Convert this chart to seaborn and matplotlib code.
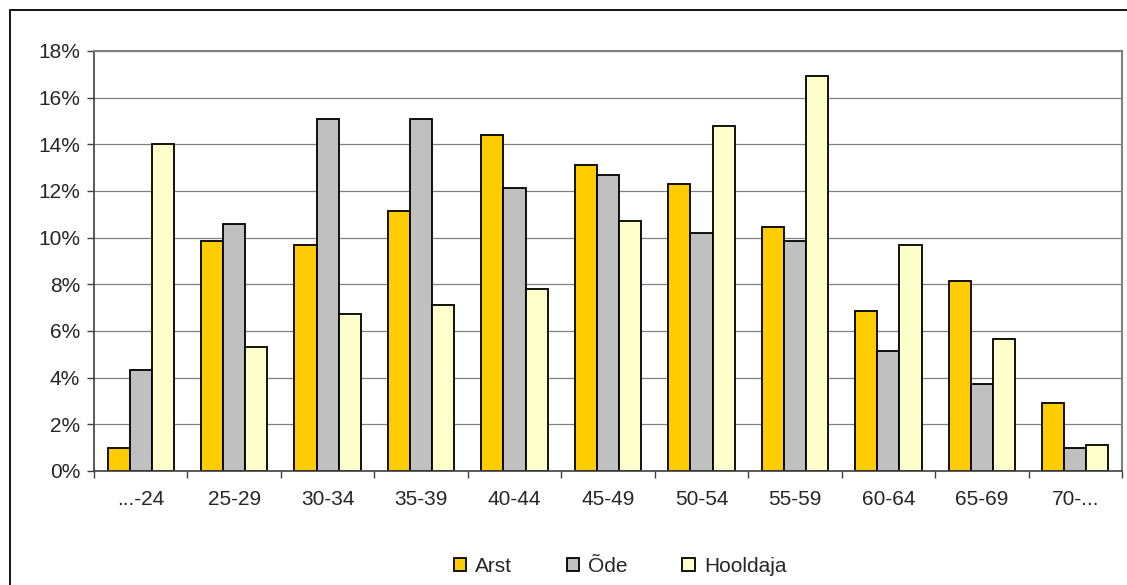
import pandas as pd
import seaborn as sb
import matplotlib.pyplot as plt
from matplotlib.patches import Rectangle
from matplotlib.ticker import PercentFormatter

vanus = ["...-24", "25-29", "30-34", "35-39", "40-44", "45-49",
         "50-54", "55-59", "60-64", "65-69", "70-..."]
arst = [1.0, 9.85, 9.7, 11.15, 14.4, 13.1, 12.3, 10.45, 6.85, 8.15, 2.9]
ode = [4.35, 10.6, 15.1, 15.1, 12.15, 12.7, 10.2, 9.85, 5.15, 3.75, 1.0]
hooldaja = [14.0, 5.3, 6.75, 7.1, 7.8, 10.7, 14.8, 16.95, 9.7, 5.65, 1.1]
seeriad = ["Arst", "Õde", "Hooldaja"]
varvid = ["#FFCC00", "#C0C0C0", "#FFFFCC"]

datos = pd.DataFrame({
    "vanus": vanus * 3,
    "seeria": [s for s in seeriad for _ in vanus],
    "osakaal": arst + ode + hooldaja,
})

sb.set_style("white")
plt.rcParams["font.family"] = ["Liberation Sans", "DejaVu Sans"]

fig = plt.figure(figsize=(11.27, 5.85), dpi=100)
ax = fig.add_axes([94 / 1127, 1 - 471 / 585, 1028 / 1127, 420 / 585])

sb.barplot(data=datos, x="vanus", y="osakaal", hue="seeria",
           palette=varvid, width=0.71, edgecolor="black", linewidth=1.3,
           saturation=1, ax=ax)

ax.set_ylim(0, 18)
ax.set_xlim(-0.5, len(vanus) - 0.5)
ax.set_yticks(range(0, 19, 2))
ax.yaxis.set_major_formatter(PercentFormatter(decimals=0))
ax.yaxis.grid(True, color="#808080", linewidth=0.9)
ax.set_axisbelow(True)
ax.set_xlabel("")
ax.set_ylabel("")

ax.set_xticks([i + 0.5 for i in range(-1, len(vanus))], minor=True)
ax.tick_params(axis="x", which="major", length=0, pad=14, labelsize=15)
ax.tick_params(axis="x", which="minor", length=5, width=1, color="#404040",
               direction="out", bottom=True)
ax.tick_params(axis="y", length=5, width=1, color="#404040", direction="out",
               left=True, pad=5, labelsize=15)

for side in ["left", "bottom"]:
    ax.spines[side].set_color("#404040")
    ax.spines[side].set_linewidth(1.2)
for side in ["top", "right"]:
    ax.spines[side].set_color("#808080")
    ax.spines[side].set_linewidth(1.5)

handles, labels = ax.get_legend_handles_labels()
ax.legend(handles, labels, loc="center", ncol=3, frameon=False,
          bbox_to_anchor=(620 / 1127, 1 - 566 / 585),
          bbox_transform=fig.transFigure, fontsize=15,
          handlelength=0.6, handleheight=0.6, handletextpad=0.45,
          columnspacing=2.6)

fig.patches.append(Rectangle((10 / 1127, -0.1), 1.2, 1 - 10 / 585 + 0.1,
                             transform=fig.transFigure, fill=False,
                             edgecolor="black", linewidth=1.3))

fig.savefig("out.png", dpi=100)
